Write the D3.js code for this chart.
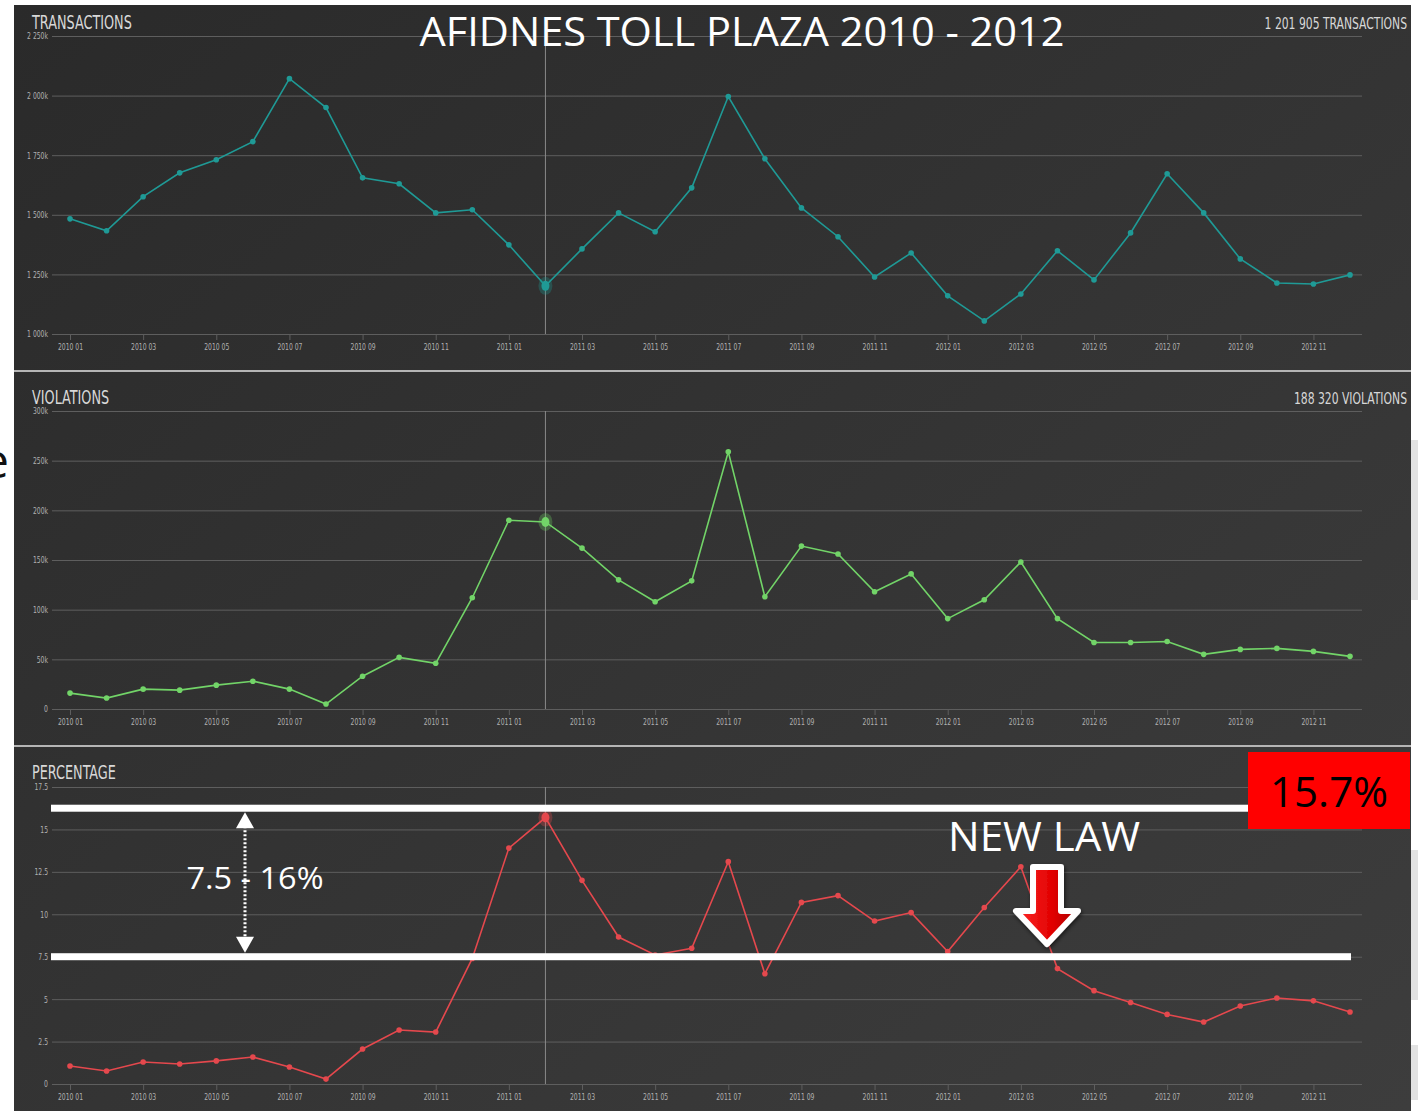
<!DOCTYPE html>
<html>
<head>
<meta charset="utf-8">
<script src="https://d3js.org/d3.v7.min.js"></script>
<style>
  body { margin: 0; background: #fff; }
  .narrow { font-family: "Liberation Sans Narrow", "DejaVu Sans Condensed", "Arial Narrow", sans-serif; }
  .big { font-family: "Open Sans", "Noto Sans", sans-serif; }
</style>
</head>
<body>
<script>
var months = ["2010 01","2010 02","2010 03","2010 04","2010 05","2010 06","2010 07","2010 08","2010 09","2010 10","2010 11","2010 12",
              "2011 01","2011 02","2011 03","2011 04","2011 05","2011 06","2011 07","2011 08","2011 09","2011 10","2011 11","2011 12",
              "2012 01","2012 02","2012 03","2012 04","2012 05","2012 06","2012 07","2012 08","2012 09","2012 10","2012 11","2012 12"];

// thousands
var transactions = [1483,1433,1576,1676,1731,1807,2071,1950,1655,1630,1508,1521,
                    1374,1202,1357,1508,1429,1613,1996,1735,1529,1408,1239,1340,
                    1160,1055,1168,1349,1227,1424,1672,1508,1315,1214,1210,1248];

// thousands
var violations = [16,11,20,19,24,28,20,5,33,52,46,112,
                  190,188.3,162,130,108,129,259,113,164,156,118,136,
                  91,110,148,91,67,67,68,55,60,61,58,53];

var percentage = [1.06,0.77,1.3,1.18,1.36,1.59,1.0,0.29,2.06,3.18,3.06,7.4,
                  13.9,15.7,12.0,8.66,7.6,8.0,13.1,6.5,10.7,11.1,9.6,10.1,
                  7.8,10.4,12.8,6.8,5.5,4.8,4.1,3.65,4.6,5.07,4.9,4.24];

var transTicks = [1000,1250,1500,1750,2000,2250];
var violTicks = [0,50,100,150,200,250,300];
var pctTicks = [0,2.5,5,7.5,10,12.5,15,17.5];

var xLabels = months.filter(function (d, i) { return i % 2 == 0; });
var hoverMonth = "2011 02";

var W = 1418, H = 1111;
var gridLeft = 52, gridRight = 1362;

var svg = d3.select("body")
    .append("svg")
    .attr("width", W)
    .attr("height", H);

var defs = svg.append("defs");
var bg = defs.append("linearGradient")
    .attr("id", "bg")
    .attr("x1", "0%").attr("y1", "0%")
    .attr("x2", "100%").attr("y2", "100%");
bg.append("stop").attr("offset", "0%").attr("stop-color", "#2a2a2a");
bg.append("stop").attr("offset", "100%").attr("stop-color", "#3d3d3d");

var arrowGrad = defs.append("linearGradient")
    .attr("id", "arrowGrad")
    .attr("x1", "0%").attr("y1", "0%")
    .attr("x2", "100%").attr("y2", "0%");
arrowGrad.append("stop").attr("offset", "0%").attr("stop-color", "#ff2a2a");
arrowGrad.append("stop").attr("offset", "60%").attr("stop-color", "#e00000");
arrowGrad.append("stop").attr("offset", "100%").attr("stop-color", "#a80000");

var shadow = defs.append("filter").attr("id", "shadow")
    .attr("x", "-30%").attr("y", "-30%").attr("width", "160%").attr("height", "160%");
shadow.append("feDropShadow")
    .attr("dx", 1).attr("dy", 2).attr("stdDeviation", 2)
    .attr("flood-color", "#000").attr("flood-opacity", 0.6);

// slide leftovers
svg.append("text")
    .attr("class", "big")
    .attr("x", 9)
    .attr("y", 478)
    .attr("text-anchor", "end")
    .attr("font-size", 48)
    .attr("fill", "#111")
    .text("e");

var deco = [[440, 600], [850, 1000], [1045, 1100]];
svg.selectAll(".deco")
    .data(deco)
    .enter().append("rect")
    .attr("class", "deco")
    .attr("x", 1411)
    .attr("y", function (d) { return d[0]; })
    .attr("width", 7)
    .attr("height", function (d) { return d[1] - d[0]; })
    .attr("fill", "#e2e2e2");

svg.append("rect")
    .attr("x", 14)
    .attr("y", 5)
    .attr("width", 1397)
    .attr("height", H - 5)
    .attr("fill", "url(#bg)");

var x = d3.scalePoint()
    .domain(months)
    .range([70, 1350]);

var panels = [
    { title: "TRANSACTIONS", total: "1 201 905 TRANSACTIONS", values: transactions, ticks: transTicks,
      domain: [1000, 2250], range: [334, 36], color: "#1f9a96", titleY: 29,
      fmt: function (d) { return d3.format(",")(d).replace(",", " ") + "k"; } },
    { title: "VIOLATIONS", total: "188 320 VIOLATIONS", values: violations, ticks: violTicks,
      domain: [0, 300], range: [709, 411], color: "#72d468", titleY: 404,
      fmt: function (d) { return d == 0 ? "0" : d + "k"; } },
    { title: "PERCENTAGE", total: null, values: percentage, ticks: pctTicks,
      domain: [0, 17.5], range: [1084, 787], color: "#e5484d", titleY: 779,
      fmt: function (d) { return d; } }
];

panels.forEach(function (p) {
    var y = d3.scaleLinear().domain(p.domain).range(p.range);
    var g = svg.append("g");

    var yAxis = d3.axisLeft(y)
        .tickValues(p.ticks)
        .tickSize(-(gridRight - gridLeft))
        .tickPadding(4)
        .tickFormat(p.fmt);
    var ya = g.append("g")
        .attr("class", "narrow")
        .attr("transform", "translate(" + gridLeft + ",0)")
        .call(yAxis);
    ya.select(".domain").remove();
    ya.selectAll("line").attr("stroke", "#5e5e5e");
    ya.selectAll("text").attr("fill", "#b0b0b0").attr("font-size", 9).classed("squeeze", true);

    var xAxis = d3.axisBottom(x)
        .tickValues(xLabels)
        .tickSize(6)
        .tickPadding(4);
    var xa = g.append("g")
        .attr("class", "narrow")
        .attr("transform", "translate(0," + p.range[0] + ")")
        .call(xAxis);
    xa.select(".domain").remove();
    xa.selectAll("line").attr("stroke", "#5e5e5e");
    xa.selectAll("text").attr("fill", "#b0b0b0").attr("font-size", 9).classed("squeeze", true);

    // crosshair
    g.append("line")
        .attr("x1", x(hoverMonth)).attr("x2", x(hoverMonth))
        .attr("y1", p.range[1]).attr("y2", p.range[0])
        .attr("stroke", "#8a8a8a")
        .attr("stroke-width", 1);

    var line = d3.line()
        .x(function (d, i) { return x(months[i]); })
        .y(function (d) { return y(d); });

    g.append("path")
        .datum(p.values)
        .attr("d", line)
        .attr("fill", "none")
        .attr("stroke", p.color)
        .attr("stroke-width", 1.6);

    g.selectAll(".dot")
        .data(p.values)
        .enter().append("circle")
        .attr("cx", function (d, i) { return x(months[i]); })
        .attr("cy", function (d) { return y(d); })
        .attr("r", 2.8)
        .attr("fill", p.color);

    var hi = months.indexOf(hoverMonth);
    g.append("ellipse")
        .attr("cx", x(hoverMonth)).attr("cy", y(p.values[hi]))
        .attr("rx", 7).attr("ry", 9)
        .attr("fill", p.color).attr("opacity", 0.3);
    g.append("ellipse")
        .attr("cx", x(hoverMonth)).attr("cy", y(p.values[hi]))
        .attr("rx", 4).attr("ry", 5)
        .attr("fill", p.color);

    svg.append("text")
        .attr("class", "narrow squeeze")
        .attr("x", 32)
        .attr("y", p.titleY)
        .attr("font-size", 19)
        .attr("fill", "#d8d8d8")
        .text(p.title);

    if (p.total) {
        svg.append("text")
            .attr("class", "narrow squeeze")
            .attr("x", 1407)
            .attr("y", p.titleY)
            .attr("text-anchor", "end")
            .attr("font-size", 16)
            .attr("fill", "#d8d8d8")
            .text(p.total);
    }
    p.y = y;
});

// condensed look: squeeze the fallback font horizontally
svg.selectAll(".squeeze").each(function () {
    var len = this.getComputedTextLength();
    d3.select(this)
        .attr("textLength", (len * 0.75).toFixed(1))
        .attr("lengthAdjust", "spacingAndGlyphs");
});

// separators
[371, 746].forEach(function (yy) {
    svg.append("line")
        .attr("x1", 14).attr("x2", 1411)
        .attr("y1", yy).attr("y2", yy)
        .attr("stroke", "#b5b5b5")
        .attr("stroke-width", 2);
});

svg.append("text")
    .attr("class", "big")
    .attr("x", 742)
    .attr("y", 46)
    .attr("text-anchor", "middle")
    .attr("font-size", 40)
    .attr("textLength", 645)
    .attr("lengthAdjust", "spacingAndGlyphs")
    .attr("fill", "#fff")
    .text("AFIDNES TOLL PLAZA 2010 - 2012");

// annotations on the percentage panel
var py = panels[2].y;
svg.append("rect")
    .attr("x", 51).attr("y", py(16.25) - 3.5)
    .attr("width", 1248 - 51).attr("height", 7)
    .attr("fill", "#fff");
svg.append("rect")
    .attr("x", 51).attr("y", py(7.5) - 3.5)
    .attr("width", 1351 - 51).attr("height", 7)
    .attr("fill", "#fff");

svg.append("line")
    .attr("x1", 245).attr("x2", 245)
    .attr("y1", py(16.25) + 18).attr("y2", py(7.5) - 18)
    .attr("stroke", "#fff")
    .attr("stroke-width", 3)
    .attr("stroke-dasharray", "2,2");
svg.append("path")
    .attr("d", "M245," + (py(16.25) + 4) + "l-9,16h18z")
    .attr("fill", "#fff");
svg.append("path")
    .attr("d", "M245," + (py(7.5) - 4) + "l-9,-16h18z")
    .attr("fill", "#fff");

svg.append("text")
    .attr("class", "big")
    .attr("x", 255)
    .attr("y", 889)
    .attr("text-anchor", "middle")
    .attr("font-size", 31)
    .attr("textLength", 137)
    .attr("lengthAdjust", "spacingAndGlyphs")
    .attr("fill", "#fff")
    .text("7.5 - 16%");

svg.append("rect")
    .attr("x", 1248).attr("y", 752)
    .attr("width", 162).attr("height", 77)
    .attr("fill", "#ff0000");
svg.append("text")
    .attr("class", "big")
    .attr("x", 1329)
    .attr("y", 807)
    .attr("text-anchor", "middle")
    .attr("font-size", 42)
    .attr("textLength", 118)
    .attr("lengthAdjust", "spacingAndGlyphs")
    .attr("fill", "#000")
    .text("15.7%");

svg.append("text")
    .attr("class", "big")
    .attr("x", 1044)
    .attr("y", 851)
    .attr("text-anchor", "middle")
    .attr("font-size", 40)
    .attr("textLength", 192)
    .attr("lengthAdjust", "spacingAndGlyphs")
    .attr("fill", "#fff")
    .text("NEW LAW");

var ax = 1047;
svg.append("path")
    .attr("d", "M" + (ax - 14) + ",867 H" + (ax + 14) + " V911 H" + (ax + 31) +
        " L" + ax + ",944 L" + (ax - 31) + ",911 H" + (ax - 14) + " Z")
    .attr("fill", "url(#arrowGrad)")
    .attr("stroke", "#fff")
    .attr("stroke-width", 6)
    .attr("stroke-linejoin", "round")
    .attr("filter", "url(#shadow)");
</script>
</body>
</html>
